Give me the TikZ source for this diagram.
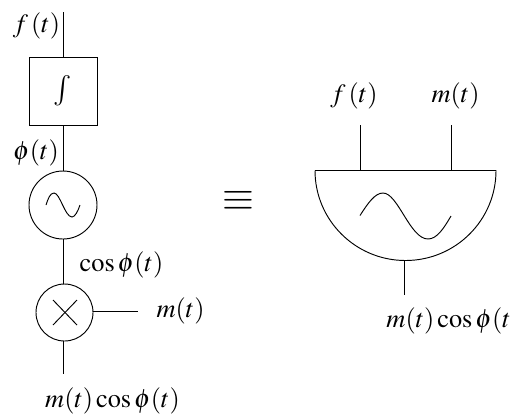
\documentclass[tikz,border=0pt]{standalone}
\usepackage{mathptmx}
\usepackage{amsmath}
\usetikzlibrary{positioning,calc}

\begin{document}
\begin{tikzpicture}[
  x=0.03cm, y=-0.03cm,
  line width=0.8pt,
  node distance=1.38cm,
  lab/.style={inner sep=0pt, font=\fontsize{22.5}{26}\selectfont},
  intbox/.style={draw, minimum size=2.04cm, inner sep=0pt, outer sep=0pt, font=\fontsize{26}{30}\selectfont},
  osc/.style={draw, circle, minimum size=2.04cm, inner sep=0pt, outer sep=0pt},
  mult/.style={draw, circle, minimum size=1.71cm, inner sep=0pt, outer sep=0pt}
]
\useasboundingbox (0,0) rectangle (513,414);
\clip (0,0) rectangle (513,414);
% left chain
\coordinate (in1) at (63,12);
\node[intbox] (n1) at (63,91) {$\int$};
\node[osc, below=of n1] (n2) {};
\node[mult] (n3) at (64.5,312.5) {};
\coordinate (out1) at (63,374);
\coordinate (m1) at (138,311);
\draw (in1) -- (n1.north);
\draw (n1.south) -- (n2.north);
\draw (n2.south) -- (63,284);
\draw (63,341) -- (out1);
\draw (n3.east |- m1) -- (m1);
% sine and cross
\draw (46,205) .. controls (48,199) and (50,193) .. (54,193)
  .. controls (60,193) and (65,217) .. (72,217)
  .. controls (75,217) and (78,211) .. (80,205);
\draw (53,300) -- (77,325);
\draw (53,325) -- (77,300);
% left labels
\node[lab] (l1) at (36.5,26) {$f\,(t)$};
\node[lab] (l2) at (36,153) {$\phi(t)$};
\node[lab] (l3) at (121.5,265) {$\cos\phi(t)$};
\node[lab] (l4) at (180.5,311) {$m(t)$};
\node[lab] (l5) at (112.5,401) {$m(t)\cos\phi(t)$};
% equivalence
\node[inner sep=0pt, font=\fontsize{35}{40}\selectfont] (eq) at (238,201) {$\equiv$};
% right block
\coordinate (a) at (315,170.5);
\coordinate (b) at (496,170.5);
\coordinate (c) at (360,170.5);
\coordinate (d) at (451,170.5);
\coordinate (e) at (404,260.5);
\coordinate (in2) at (360,125);
\coordinate (in3) at (451,125);
\coordinate (out2) at (404,295);
\draw (a) -- (b) arc[start angle=0, end angle=180, x radius=90.5, y radius=90];
\draw (in2) -- (c);
\draw (in3) -- (d);
\draw (e) -- (out2);
\draw (360,215.5) .. controls (368,203) and (375,193) .. (383,193)
  .. controls (398,193) and (410,239) .. (428,239)
  .. controls (437,239) and (444,228) .. (451,216);
\node[lab] (r1) at (354,96) {$f\,(t)$};
\node[lab] (r2) at (455.5,96) {$m(t)$};
\node[lab, anchor=west] (r3) at (386,321) {$m(t)\cos\phi(t$};
\end{tikzpicture}
\end{document}
